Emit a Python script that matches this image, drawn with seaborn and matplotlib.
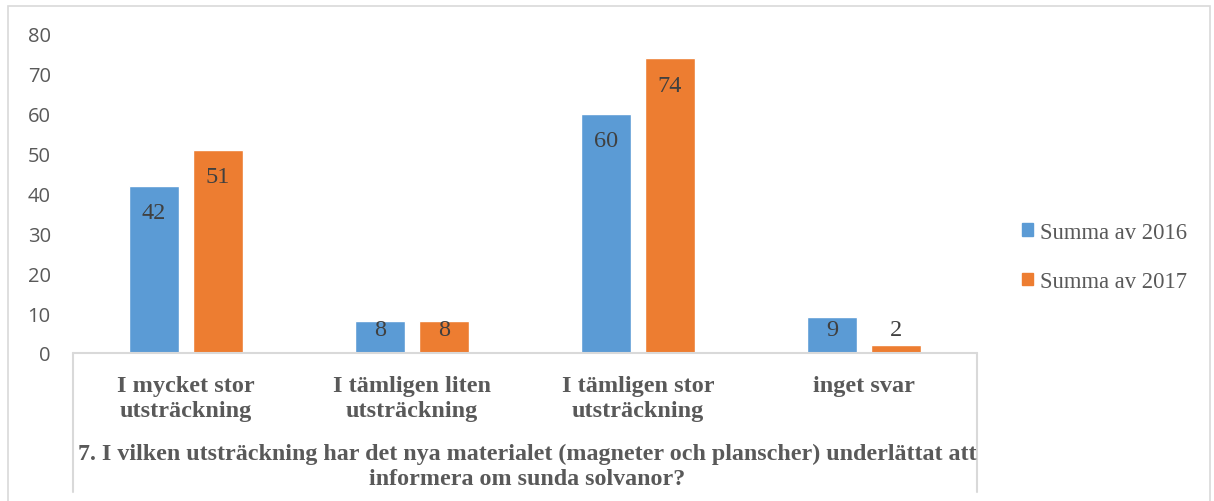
import matplotlib
matplotlib.use("Agg")
import matplotlib.pyplot as plt
from matplotlib.patches import Rectangle
from matplotlib.lines import Line2D
import pandas as pd
import seaborn as sns

categories = ["I mycket stor\nutsträckning", "I tämligen liten\nutsträckning",
              "I tämligen stor\nutsträckning", "inget svar"]
series = ["Summa av 2016", "Summa av 2017"]
values_2016 = [42, 8, 60, 9]
values_2017 = [51, 8, 74, 2]
yticks = [0, 10, 20, 30, 40, 50, 60, 70, 80]
title = ("7. I vilken utsträckning har det nya materialet (magneter och planscher) underlättat att\n"
         "informera om sunda solvanor?")

df = pd.DataFrame({
    "cat": categories * 2,
    "serie": [series[0]] * 4 + [series[1]] * 4,
    "val": values_2016 + values_2017,
})

sns.set_style("white")
serif = "Liberation Serif"
gray = "#595959"

W, H = 1214, 502
fig = plt.figure(figsize=(W / 100, H / 100), dpi=100)
ax = fig.add_axes([73 / W, (H - 354) / H, (977 - 73) / W, (354 - 35) / H])

sns.barplot(data=df, x="cat", y="val", hue="serie", order=categories,
            palette=["#5B9BD5", "#ED7D31"], width=0.566, gap=0.22,
            saturation=1, ax=ax, legend=False)

ax.set_ylim(0, 80)
ax.set_xlim(-0.5, 3.5)
ax.set_yticks(yticks)
ax.set_yticklabels([str(t) for t in yticks], fontfamily="Open Sans", fontsize=14.5, color=gray)
ax.tick_params(axis="y", length=0, pad=16)
ax.set_xticks([])
ax.set_xlabel("")
ax.set_ylabel("")
for s in ax.spines.values():
    s.set_visible(False)

# data labels
for cont in ax.containers:
    for bar in cont:
        v = bar.get_height()
        x = bar.get_x() + bar.get_width() / 2
        ax.text(x, max(v - 6.8, 6.0), f"{v:g}", ha="center", va="center",
                fontfamily=serif, fontsize=17.5, color="#404040")

# category labels
for i, c in enumerate(categories):
    ax.text(i, -5.4, c, ha="center", va="top", fontfamily=serif, fontweight="bold",
            fontsize=17.5, color=gray, linespacing=1.25)

fig.text(527 / W, 1 - 467 / H, title, ha="center", va="center", fontfamily=serif,
         fontweight="bold", fontsize=17.3, color=gray, linespacing=1.3)

# pivot axis box
lc = "#d9d9d9"
fig.add_artist(Line2D([73 / W, 977 / W], [1 - 354 / H, 1 - 354 / H], color=lc, lw=1.5))
fig.add_artist(Line2D([73 / W, 73 / W], [1 - 354 / H, 1 - 493 / H], color=lc, lw=1.5))
fig.add_artist(Line2D([977 / W, 977 / W], [1 - 354 / H, 1 - 493 / H], color=lc, lw=1.5))

# outer chart border
fig.add_artist(Rectangle((8 / W, -0.01), 1202 / W, 1 - 7 / H + 0.01, fill=False,
                         edgecolor=lc, lw=1.2, transform=fig.transFigure))

# legend
handles = [Rectangle((0, 0), 1, 1, color=c) for c in ["#5B9BD5", "#ED7D31"]]
leg = fig.legend(handles, series, loc="center left", bbox_to_anchor=(1002 / W, 1 - 258 / H),
                 frameon=False, prop={"family": serif, "size": 16.3}, labelcolor=gray,
                 handlelength=0.48, handleheight=0.48, handletextpad=0.3, labelspacing=1.25)

fig.savefig("out.png", dpi=100)
